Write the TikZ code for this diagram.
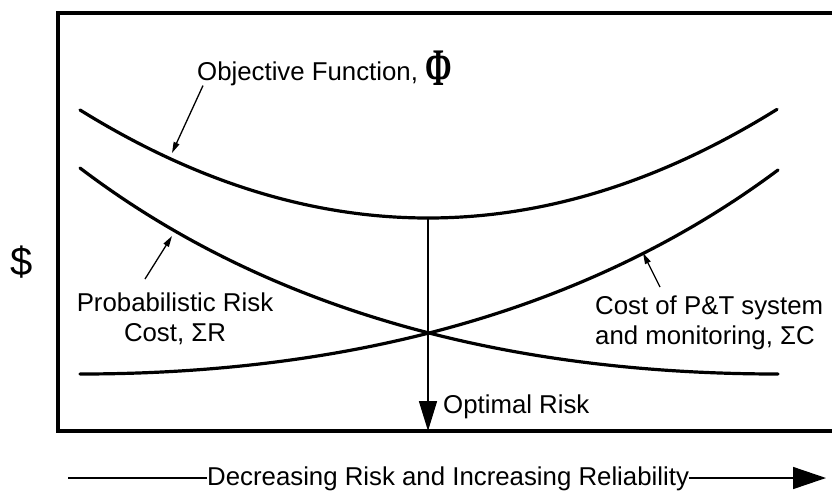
\documentclass[tikz,border=0pt]{standalone}
\usepackage{fontspec}
\setmainfont{Liberation Sans}
\newfontfamily\phifont{Liberation Serif}
\usetikzlibrary{arrows.meta}

\begin{document}
\begin{tikzpicture}[x=1pt, y=-1pt, font=\fontsize{25.8}{30}\selectfont,
		curve/.style={line width=3.2pt, line cap=round},
		pointer/.style={line width=1.3pt, -{Triangle[length=11pt, width=6pt]}},
		label/.style={inner sep=0pt}]
						\useasboundingbox (0,0) rectangle (832,496);
						\draw[line width=4pt] (832,12.5) -- (57.5,12.5) -- (57.5,431) -- (832,431);
						\node (dollar) at (22,262) {\fontsize{40}{48}\selectfont\$};
						\coordinate (opt) at (428,218);
						\coordinate (base) at (428,431);
						\draw[curve] plot[domain=80:777, samples=100] (\x, {218 - 8.92*((\x-428)/100)^2});
						\draw[curve] (80,168) .. controls (280,320) and (528,374) .. (778,374);
						\draw[curve] (80,374) .. controls (329,374) and (577,320) .. (778,170);
						\draw[line width=1.6pt, -{Triangle[length=30pt, width=18pt]}] (opt) -- (base);
						\node[label, anchor=base west] (optimal) at (443,413) {Optimal Risk};
						\node[label, anchor=base west] (objective) at (197,80) {Objective Function, \raisebox{-5pt}{\scalebox{1}[1.65]{\fontsize{32}{32}\selectfont\phifont\bfseries Φ}}};
						\node[label, anchor=north, align=center] (risk) at (175,293) {Probabilistic Risk\\Cost, ΣR};
						\node[label, anchor=north west, align=left] (cost) at (595,296) {Cost of P\&T system\\and monitoring, ΣC};
						\coordinate (objtip) at (172,153);
						\coordinate (risktip) at (172,236);
						\coordinate (costtip) at (643,253);
						\draw[pointer] ([xshift=6pt]objective.south west) -- (objtip);
						\draw[pointer] ([xshift=-30pt, yshift=14pt]risk.north) -- (risktip);
						\draw[pointer] ([xshift=65pt, yshift=9pt]cost.north west) -- (costtip);
						\node[label, anchor=base west] (dir) at (207,485) {Decreasing Risk and Increasing Reliability};
						\coordinate (dirstart) at (68,478);
						\coordinate (dirend) at (826,478);
						\draw[line width=1.5pt] (dirstart) -- (dirstart -| dir.west);
						\draw[line width=1.5pt, -{Triangle[length=33pt, width=22pt]}] (dirstart -| dir.east) -- (dirend);
					\end{tikzpicture}
\end{document}
